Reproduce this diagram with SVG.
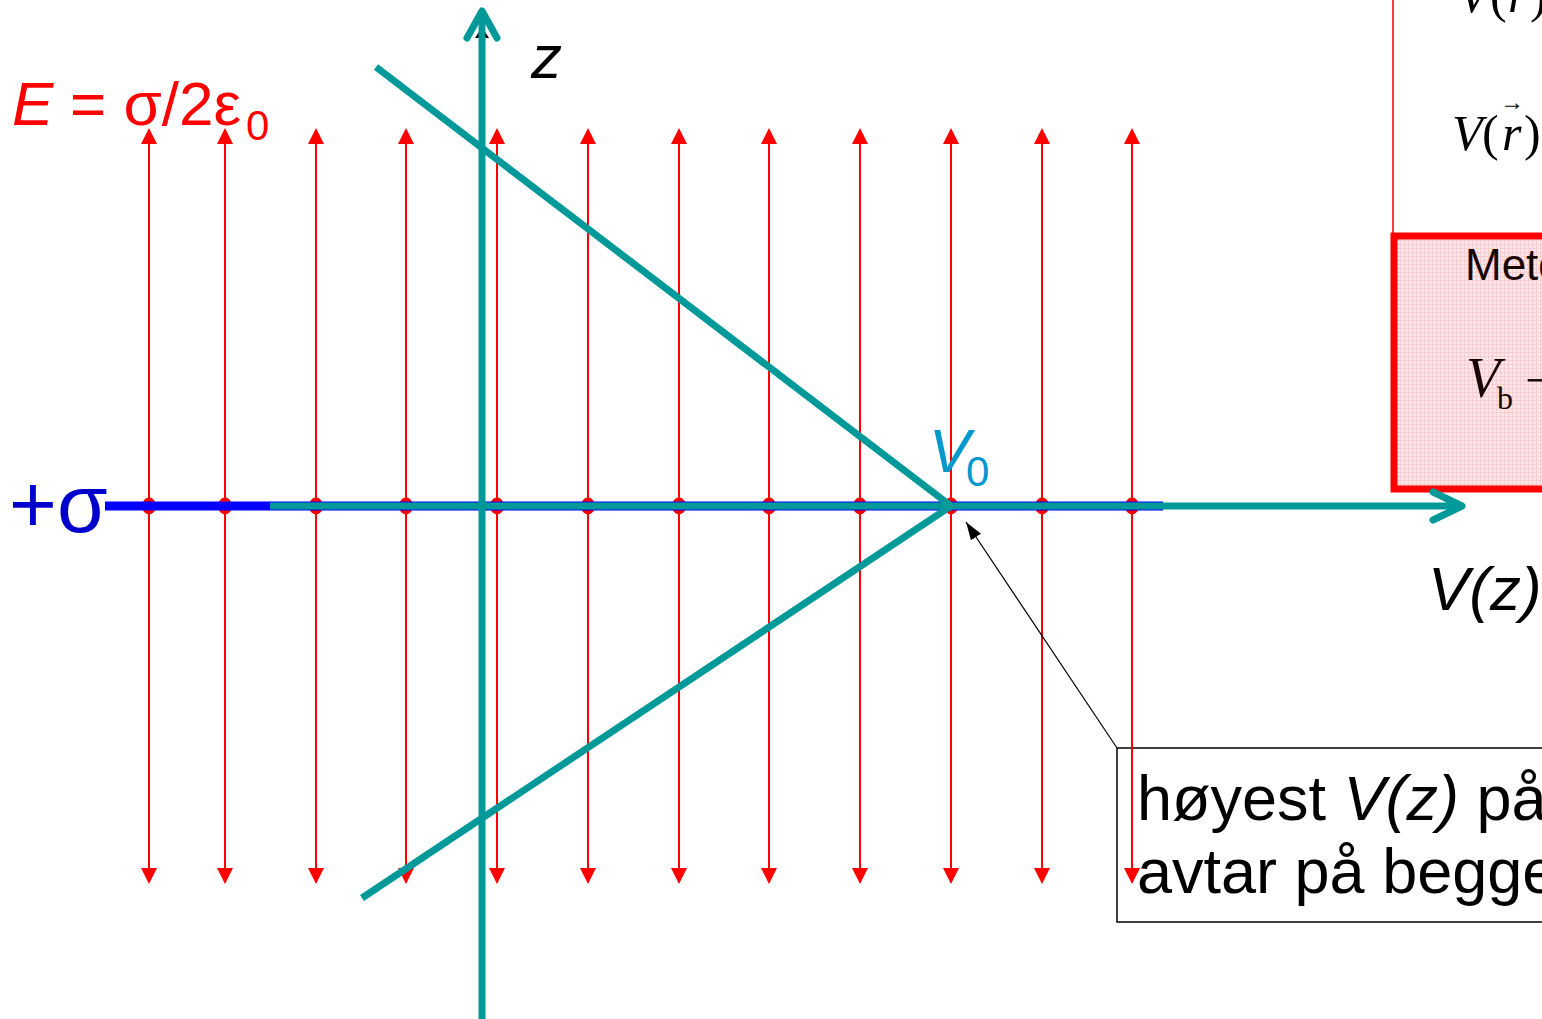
<svg xmlns="http://www.w3.org/2000/svg" width="1542" height="1019" viewBox="0 0 1542 1019">
<style>
.field{stroke:#ff0000;stroke-width:2;fill:none;marker-start:url(#redHead);marker-end:url(#redHead)}
.dot{fill:#ff0000}
.teal{stroke:#009999;stroke-width:7;fill:none;stroke-linecap:round;stroke-linejoin:round}
.tealbutt{stroke:#009999;stroke-width:7;fill:none;stroke-linecap:butt}
.sans{font-family:"Liberation Sans",Arial,sans-serif}
.serif{font-family:"Liberation Serif","Times New Roman",serif}
.it{font-style:italic}
</style>
<defs>
<marker id="redHead" markerUnits="userSpaceOnUse" markerWidth="16" markerHeight="16" refX="0" refY="8" orient="auto-start-reverse" viewBox="0 0 16 16">
<path d="M0,0 L16,8 L0,16 z" fill="#ff0000"/>
</marker>
<marker id="blackHead" markerUnits="userSpaceOnUse" markerWidth="18" markerHeight="12" refX="18" refY="6" orient="auto" viewBox="0 0 18 12">
<path d="M0,0 L18,6 L0,12 z" fill="#000"/>
</marker>
<pattern id="pinkGrid" width="4" height="4" patternUnits="userSpaceOnUse">
<rect width="4" height="4" fill="#fde6e8"/>
<path d="M0,0.5 H4 M0.5,0 V4" stroke="#f6cdd1" stroke-width="1"/>
</pattern>
</defs>

<!-- right-side panel -->
<g id="panel">
<line x1="1393" y1="0" x2="1393" y2="236" stroke="#ff0000" stroke-width="1.5"/>
<text class="serif" font-size="50" x="1458" y="12" fill="#000"><tspan class="it">V</tspan><tspan x="1490">(</tspan><tspan class="it" x="1508">r</tspan><tspan x="1530">)</tspan></text>
<text class="serif" font-size="50" x="1452" y="150" fill="#000"><tspan class="it">V</tspan><tspan x="1482">(</tspan><tspan class="it" x="1502">r</tspan><tspan x="1524">)</tspan></text>
<text class="serif" font-size="24" x="1500" y="110" fill="#000">→</text>
<rect x="1394" y="236" width="160" height="253" fill="url(#pinkGrid)" stroke="#ff0000" stroke-width="7"/>
<text class="sans" font-size="44" x="1465" y="280" fill="#1a0505">Metode</text>
<text class="serif it" font-size="56" x="1466" y="397" fill="#1a0505">V</text>
<text class="serif" font-size="32" x="1497" y="409" fill="#1a0505">b</text>
<text class="serif" font-size="50" x="1525" y="397" fill="#1a0505">−</text>
</g>

<!-- callout box -->
<g id="callout">
<rect x="1117" y="748" width="440" height="174" fill="#ffffff" stroke="#000" stroke-width="1.5"/>
<text class="sans" font-size="63" x="1137" y="820" fill="#000">høyest <tspan class="it">V(z)</tspan> på</text>
<text class="sans" font-size="63" x="1137" y="893" fill="#000">avtar på begge</text>
</g>

<!-- field lines -->
<g id="field">
<line class="field" x1="149" y1="144" x2="149" y2="868"/>
<line class="field" x1="225" y1="144" x2="225" y2="868"/>
<line class="field" x1="316" y1="144" x2="316" y2="868"/>
<line class="field" x1="406" y1="144" x2="406" y2="868"/>
<line class="field" x1="497" y1="144" x2="497" y2="868"/>
<line class="field" x1="588" y1="144" x2="588" y2="868"/>
<line class="field" x1="679" y1="144" x2="679" y2="868"/>
<line class="field" x1="769" y1="144" x2="769" y2="868"/>
<line class="field" x1="860" y1="144" x2="860" y2="868"/>
<line class="field" x1="951" y1="144" x2="951" y2="868"/>
<line class="field" x1="1042" y1="144" x2="1042" y2="868"/>
<line class="field" x1="1132" y1="144" x2="1132" y2="868"/>
<ellipse class="dot" cx="149" cy="506" rx="7" ry="8.5"/>
<ellipse class="dot" cx="225" cy="506" rx="7" ry="8.5"/>
<ellipse class="dot" cx="316" cy="506" rx="7" ry="8.5"/>
<ellipse class="dot" cx="406" cy="506" rx="7" ry="8.5"/>
<ellipse class="dot" cx="497" cy="506" rx="7" ry="8.5"/>
<ellipse class="dot" cx="588" cy="506" rx="7" ry="8.5"/>
<ellipse class="dot" cx="679" cy="506" rx="7" ry="8.5"/>
<ellipse class="dot" cx="769" cy="506" rx="7" ry="8.5"/>
<ellipse class="dot" cx="860" cy="506" rx="7" ry="8.5"/>
<ellipse class="dot" cx="951" cy="506" rx="7" ry="8.5"/>
<ellipse class="dot" cx="1042" cy="506" rx="7" ry="8.5"/>
<ellipse class="dot" cx="1132" cy="506" rx="7" ry="8.5"/>
</g>

<!-- charged plane label and line -->
<g id="plane">
<text class="sans" font-size="82" x="9" y="532" fill="#0000cc">+σ</text>
<line x1="105" y1="506" x2="1163" y2="506" stroke="#0000ff" stroke-width="9"/>
</g>

<!-- axes and potential graph -->
<g id="connectors">
<polygon points="475,38 482,27 489,38" fill="#000"/>
<line class="tealbutt" x1="482" y1="1019" x2="482" y2="12"/>
<polyline class="teal" points="467,38 482,11 497,38"/>
<line class="tealbutt" x1="270" y1="506" x2="1460" y2="506"/>
<polyline class="teal" points="1433,492 1462,506 1433,520"/>
<polyline class="tealbutt" points="376,67 951,506 362,898" style="stroke-linejoin:miter"/>
<line x1="1117" y1="748" x2="966" y2="522" stroke="#000" stroke-width="1.2" marker-end="url(#blackHead)"/>
</g>

<!-- labels -->
<g id="labels">
<text class="sans" font-size="62" x="12" y="125" fill="#ff0000"><tspan class="it">E</tspan><tspan x="70">= σ/2ε</tspan></text>
<text class="sans" font-size="42" x="246" y="140" fill="#ff0000">0</text>
<text class="sans it" font-size="62" x="531" y="78" fill="#000">z</text>
<text class="sans it" font-size="62" x="929" y="472" fill="#0099cc">V</text>
<text class="sans" font-size="42" x="966" y="486" fill="#0099cc">0</text>
<text class="sans it" font-size="62" x="1428" y="610" fill="#000">V(z)</text>
</g>
</svg>
